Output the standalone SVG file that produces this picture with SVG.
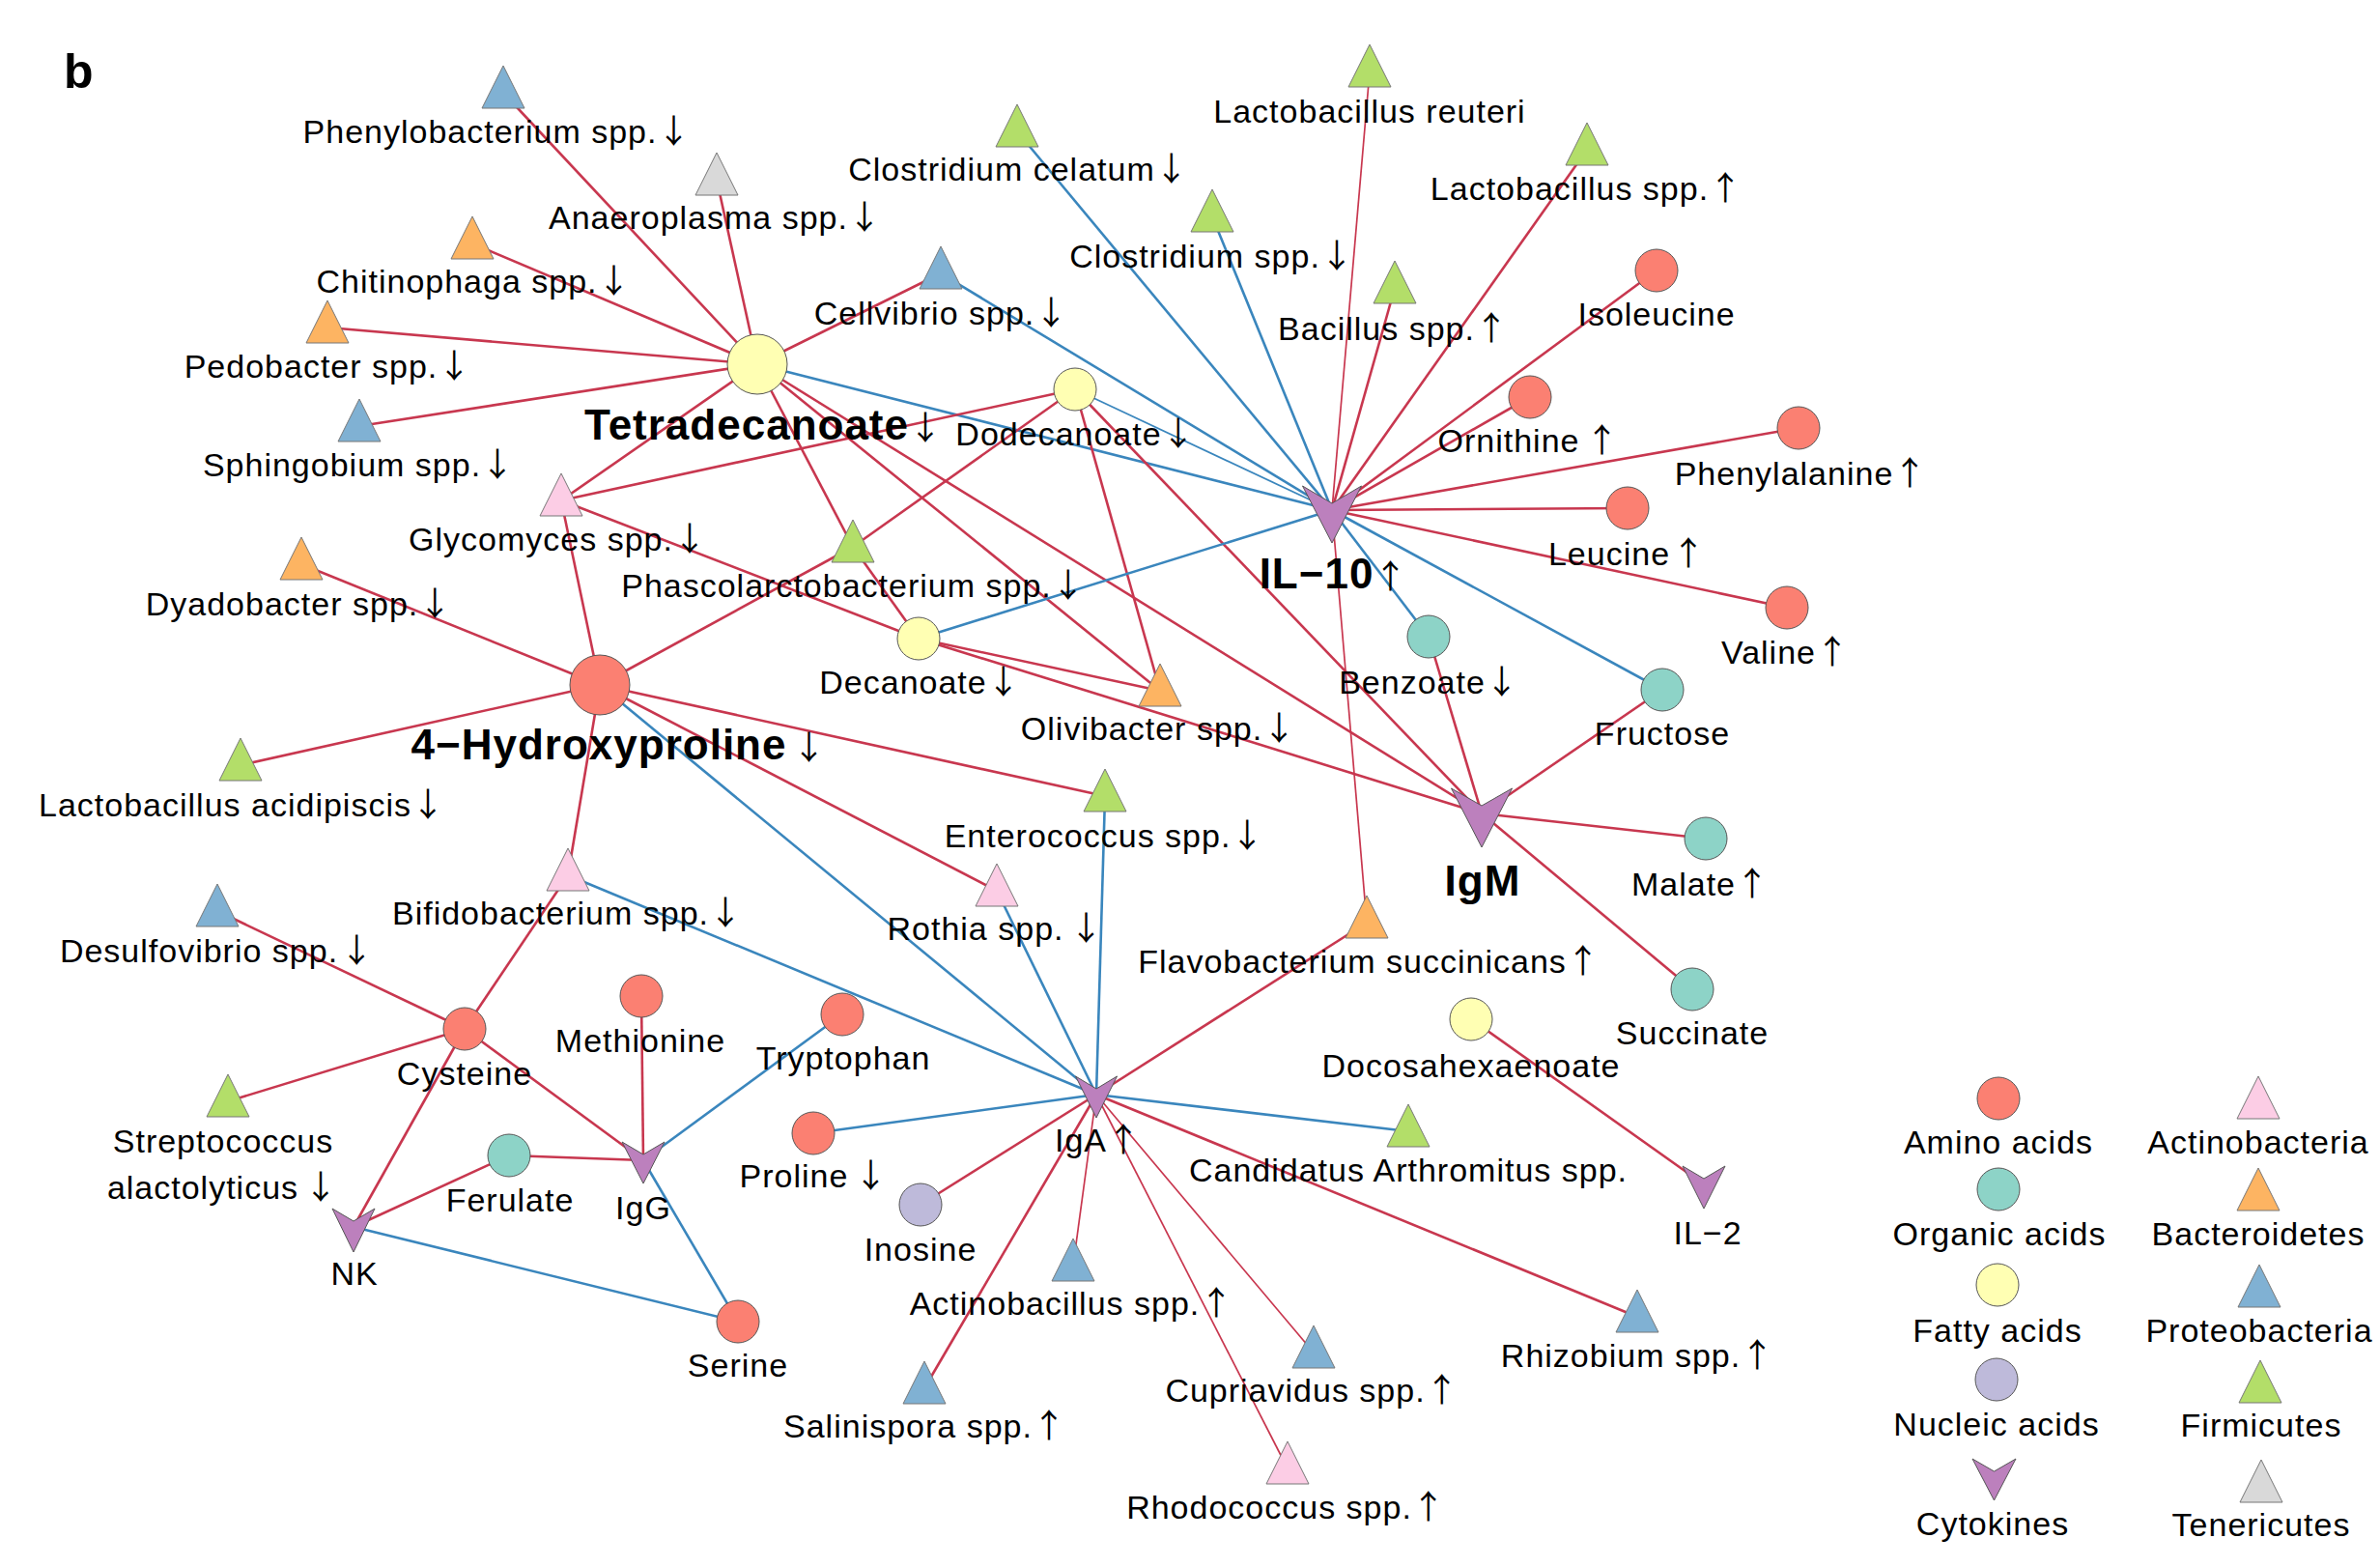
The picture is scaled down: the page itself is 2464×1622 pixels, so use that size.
<svg xmlns="http://www.w3.org/2000/svg" width="2464" height="1622" viewBox="0 0 2464 1622">
<style>
.r{stroke:#c8374f;stroke-width:2.6;fill:none}
.b{stroke:#3a86bd;stroke-width:2.6;fill:none}
.th{stroke-width:1.7}
text{font-family:"Liberation Sans",Arial,sans-serif;font-size:34px;letter-spacing:1px;text-anchor:middle;fill:#000}
.bd{font-weight:bold;font-size:44px}
.ar{font-family:"Noto Sans CJK SC",sans-serif;font-weight:normal;font-size:34px;letter-spacing:-8px}
.am{fill:#FB8072;stroke:#555;stroke-width:1}
.oa{fill:#8DD3C7;stroke:#555;stroke-width:1}
.fa{fill:#FFFFB3;stroke:#555;stroke-width:1}
.na{fill:#BEBADA;stroke:#555;stroke-width:1}
.cy{fill:#BC80BD;stroke:#555;stroke-width:1}
.ac{fill:#FCCDE5;stroke:#777;stroke-width:1}
.bc{fill:#FDB462;stroke:#777;stroke-width:1}
.pr{fill:#80B1D3;stroke:#777;stroke-width:1}
.fi{fill:#B3DE69;stroke:#777;stroke-width:1}
.te{fill:#D9D9D9;stroke:#777;stroke-width:1}
</style>
<rect width="2464" height="1622" fill="#fff"/>
<text x="66" y="91" style="font-weight:bold;font-size:50px;text-anchor:start">b</text>
<g id="edges">
<line class="r" x1="784" y1="377" x2="521" y2="96"/>
<line class="r" x1="784" y1="377" x2="742" y2="186"/>
<line class="r" x1="784" y1="377" x2="489" y2="252"/>
<line class="r" x1="784" y1="377" x2="339" y2="339"/>
<line class="r" x1="784" y1="377" x2="372" y2="441"/>
<line class="r" x1="784" y1="377" x2="581" y2="518"/>
<line class="r" x1="784" y1="377" x2="974" y2="283"/>
<line class="b" x1="784" y1="377" x2="1379" y2="528"/>
<line class="r" x1="784" y1="377" x2="883" y2="566"/>
<line class="r" x1="784" y1="377" x2="1201" y2="715"/>
<line class="r" x1="784" y1="377" x2="1534" y2="842"/>
<line class="r" x1="581" y1="518" x2="1113" y2="403"/>
<line class="r" x1="581" y1="518" x2="621" y2="709"/>
<line class="r" x1="581" y1="518" x2="951" y2="661"/>
<line class="r" x1="1113" y1="403" x2="883" y2="566"/>
<line class="b th" x1="1113" y1="403" x2="1379" y2="528"/>
<line class="r" x1="1113" y1="403" x2="1201" y2="715"/>
<line class="r" x1="1113" y1="403" x2="1534" y2="842"/>
<line class="r" x1="883" y1="566" x2="951" y2="661"/>
<line class="r" x1="883" y1="566" x2="621" y2="709"/>
<line class="b" x1="951" y1="661" x2="1379" y2="528"/>
<line class="r" x1="951" y1="661" x2="1201" y2="715"/>
<line class="r" x1="951" y1="661" x2="1534" y2="842"/>
<line class="r" x1="621" y1="709" x2="312" y2="584"/>
<line class="r" x1="621" y1="709" x2="249" y2="792"/>
<line class="r" x1="621" y1="709" x2="588" y2="906"/>
<line class="b" x1="621" y1="709" x2="1135" y2="1133"/>
<line class="r" x1="621" y1="709" x2="1144" y2="824"/>
<line class="r" x1="621" y1="709" x2="1032" y2="922"/>
<line class="r" x1="588" y1="906" x2="481" y2="1065"/>
<line class="b" x1="588" y1="906" x2="1135" y2="1133"/>
<line class="r" x1="481" y1="1065" x2="225" y2="943"/>
<line class="r" x1="481" y1="1065" x2="236" y2="1140"/>
<line class="r" x1="481" y1="1065" x2="366" y2="1270"/>
<line class="r" x1="481" y1="1065" x2="666" y2="1201"/>
<line class="r" x1="666" y1="1201" x2="664" y2="1031"/>
<line class="r" x1="666" y1="1201" x2="527" y2="1196"/>
<line class="b" x1="666" y1="1201" x2="872" y2="1050"/>
<line class="b" x1="666" y1="1201" x2="764" y2="1368"/>
<line class="r" x1="366" y1="1270" x2="527" y2="1196"/>
<line class="b" x1="366" y1="1270" x2="764" y2="1368"/>
<line class="b" x1="1135" y1="1133" x2="1032" y2="922"/>
<line class="b" x1="1135" y1="1133" x2="1144" y2="824"/>
<line class="b" x1="1135" y1="1133" x2="842" y2="1173"/>
<line class="b" x1="1135" y1="1133" x2="1458" y2="1171"/>
<line class="r" x1="1135" y1="1133" x2="1415" y2="955"/>
<line class="r" x1="1135" y1="1133" x2="953" y2="1247"/>
<line class="r" x1="1135" y1="1133" x2="957" y2="1437"/>
<line class="r th" x1="1135" y1="1133" x2="1111" y2="1310"/>
<line class="r th" x1="1135" y1="1133" x2="1333" y2="1520"/>
<line class="r th" x1="1135" y1="1133" x2="1360" y2="1400"/>
<line class="r" x1="1135" y1="1133" x2="1695" y2="1363"/>
<line class="b" x1="1379" y1="528" x2="1053" y2="136"/>
<line class="b" x1="1379" y1="528" x2="1255" y2="224"/>
<line class="b" x1="1379" y1="528" x2="974" y2="283"/>
<line class="b" x1="1379" y1="528" x2="1479" y2="659"/>
<line class="b" x1="1379" y1="528" x2="1721" y2="714"/>
<line class="r th" x1="1379" y1="528" x2="1418" y2="74"/>
<line class="r" x1="1379" y1="528" x2="1444" y2="298"/>
<line class="r" x1="1379" y1="528" x2="1643" y2="155"/>
<line class="r" x1="1379" y1="528" x2="1715" y2="280"/>
<line class="r" x1="1379" y1="528" x2="1584" y2="411"/>
<line class="r" x1="1379" y1="528" x2="1862" y2="443"/>
<line class="r" x1="1379" y1="528" x2="1685" y2="526"/>
<line class="r" x1="1379" y1="528" x2="1850" y2="629"/>
<line class="r th" x1="1379" y1="528" x2="1415" y2="955"/>
<line class="r" x1="1534" y1="842" x2="1479" y2="659"/>
<line class="r" x1="1534" y1="842" x2="1721" y2="714"/>
<line class="r" x1="1534" y1="842" x2="1766" y2="868"/>
<line class="r" x1="1534" y1="842" x2="1752" y2="1024"/>
<line class="r" x1="1523" y1="1055" x2="1764" y2="1226"/>
</g>
<g id="n-phenylobacterium"><polygon class="pr" points="521,68 499,112 543,112"/><text x="510" y="148">Phenylobacterium spp.<tspan class="ar">↓</tspan></text></g>
<g id="n-anaeroplasma"><polygon class="te" points="742,158 720,202 764,202"/><text x="736" y="237">Anaeroplasma spp.<tspan class="ar">↓</tspan></text></g>
<g id="n-chitinophaga"><polygon class="bc" points="489,224 467,268 511,268"/><text x="486" y="303">Chitinophaga spp.<tspan class="ar">↓</tspan></text></g>
<g id="n-pedobacter"><polygon class="bc" points="339,311 317,355 361,355"/><text x="335" y="391">Pedobacter spp.<tspan class="ar">↓</tspan></text></g>
<g id="n-sphingobium"><polygon class="pr" points="372,413 350,457 394,457"/><text x="367" y="493">Sphingobium spp.<tspan class="ar">↓</tspan></text></g>
<g id="n-glycomyces"><polygon class="ac" points="581,490 559,534 603,534"/><text x="573" y="570">Glycomyces spp.<tspan class="ar">↓</tspan></text></g>
<g id="n-cellvibrio"><polygon class="pr" points="974,255 952,299 996,299"/><text x="970" y="336">Cellvibrio spp.<tspan class="ar">↓</tspan></text></g>
<g id="n-clostridium-celatum"><polygon class="fi" points="1053,108 1031,152 1075,152"/><text x="1050" y="187">Clostridium celatum<tspan class="ar">↓</tspan></text></g>
<g id="n-lactobacillus-reuteri"><polygon class="fi" points="1418,46 1396,90 1440,90"/><text x="1418" y="127">Lactobacillus reuteri</text></g>
<g id="n-clostridium-spp"><polygon class="fi" points="1255,196 1233,240 1277,240"/><text x="1250" y="277">Clostridium spp.<tspan class="ar">↓</tspan></text></g>
<g id="n-bacillus"><polygon class="fi" points="1444,270 1422,314 1466,314"/><text x="1438" y="352">Bacillus spp.<tspan class="ar">↑</tspan></text></g>
<g id="n-lactobacillus-spp"><polygon class="fi" points="1643,127 1621,171 1665,171"/><text x="1638" y="207">Lactobacillus spp.<tspan class="ar">↑</tspan></text></g>
<g id="n-dyadobacter"><polygon class="bc" points="312,556 290,600 334,600"/><text x="305" y="637">Dyadobacter spp.<tspan class="ar">↓</tspan></text></g>
<g id="n-phascolarctobacterium"><polygon class="fi" points="883,538 861,582 905,582"/><text x="879" y="618">Phascolarctobacterium spp.<tspan class="ar">↓</tspan></text></g>
<g id="n-lactobacillus-acidipiscis"><polygon class="fi" points="249,764 227,808 271,808"/><text x="246" y="845">Lactobacillus acidipiscis<tspan class="ar">↓</tspan></text></g>
<g id="n-olivibacter"><polygon class="bc" points="1201,687 1179,731 1223,731"/><text x="1195" y="766">Olivibacter spp.<tspan class="ar">↓</tspan></text></g>
<g id="n-enterococcus"><polygon class="fi" points="1144,796 1122,840 1166,840"/><text x="1139" y="877">Enterococcus spp.<tspan class="ar">↓</tspan></text></g>
<g id="n-bifidobacterium"><polygon class="ac" points="588,878 566,922 610,922"/><text x="583" y="957">Bifidobacterium spp.<tspan class="ar">↓</tspan></text></g>
<g id="n-desulfovibrio"><polygon class="pr" points="225,915 203,959 247,959"/><text x="220" y="996">Desulfovibrio spp.<tspan class="ar" dx="2">↓</tspan></text></g>
<g id="n-rothia"><polygon class="ac" points="1032,894 1010,938 1054,938"/><text x="1026" y="973">Rothia spp.<tspan class="ar" dx="6">↓</tspan></text></g>
<g id="n-flavobacterium"><polygon class="bc" points="1415,927 1393,971 1437,971"/><text x="1413" y="1007">Flavobacterium succinicans<tspan class="ar">↑</tspan></text></g>
<g id="n-streptococcus"><polygon class="fi" points="236,1112 214,1156 258,1156"/><text x="231" y="1193">Streptococcus</text><text x="226" y="1241">alactolyticus<tspan class="ar" dx="6">↓</tspan></text></g>
<g id="n-candidatus"><polygon class="fi" points="1458,1143 1436,1187 1480,1187"/><text x="1458" y="1223">Candidatus Arthromitus spp.</text></g>
<g id="n-actinobacillus"><polygon class="pr" points="1111,1282 1089,1326 1133,1326"/><text x="1105" y="1361">Actinobacillus spp.<tspan class="ar">↑</tspan></text></g>
<g id="n-cupriavidus"><polygon class="pr" points="1360,1372 1338,1416 1382,1416"/><text x="1354" y="1451">Cupriavidus spp.<tspan class="ar">↑</tspan></text></g>
<g id="n-salinispora"><polygon class="pr" points="957,1409 935,1453 979,1453"/><text x="953" y="1488">Salinispora spp.<tspan class="ar">↑</tspan></text></g>
<g id="n-rhodococcus"><polygon class="ac" points="1333,1492 1311,1536 1355,1536"/><text x="1327" y="1572">Rhodococcus spp.<tspan class="ar">↑</tspan></text></g>
<g id="n-rhizobium"><polygon class="pr" points="1695,1335 1673,1379 1717,1379"/><text x="1691" y="1415">Rhizobium spp.<tspan class="ar">↑</tspan></text></g>
<g id="n-tetradecanoate"><circle class="fa" cx="784" cy="377" r="31"/><text class="bd" x="786" y="455">Tetradecanoate<tspan class="ar">↓</tspan></text></g>
<g id="n-hydroxyproline"><circle class="am" cx="621" cy="709" r="31"/><text class="bd" x="636" y="786">4−Hydroxyproline<tspan class="ar" dx="6">↓</tspan></text></g>
<g id="n-dodecanoate"><circle class="fa" cx="1113" cy="403" r="22"/><text x="1109" y="461">Dodecanoate<tspan class="ar">↓</tspan></text></g>
<g id="n-decanoate"><circle class="fa" cx="951" cy="661" r="22"/><text x="948" y="718">Decanoate<tspan class="ar">↓</tspan></text></g>
<g id="n-docosahexaenoate"><circle class="fa" cx="1523" cy="1055" r="22"/><text x="1523" y="1115">Docosahexaenoate</text></g>
<g id="n-isoleucine"><circle class="am" cx="1715" cy="280" r="22"/><text x="1715" y="337">Isoleucine</text></g>
<g id="n-ornithine"><circle class="am" cx="1584" cy="411" r="22"/><text x="1578" y="468">Ornithine<tspan class="ar" dx="6">↑</tspan></text></g>
<g id="n-phenylalanine"><circle class="am" cx="1862" cy="443" r="22"/><text x="1860" y="502">Phenylalanine<tspan class="ar">↑</tspan></text></g>
<g id="n-leucine"><circle class="am" cx="1685" cy="526" r="22"/><text x="1680" y="585">Leucine<tspan class="ar" dx="2">↑</tspan></text></g>
<g id="n-valine"><circle class="am" cx="1850" cy="629" r="22"/><text x="1844" y="687">Valine<tspan class="ar">↑</tspan></text></g>
<g id="n-benzoate"><circle class="oa" cx="1479" cy="659" r="22"/><text x="1475" y="718">Benzoate<tspan class="ar">↓</tspan></text></g>
<g id="n-fructose"><circle class="oa" cx="1721" cy="714" r="22"/><text x="1721" y="771">Fructose</text></g>
<g id="n-malate"><circle class="oa" cx="1766" cy="868" r="22"/><text x="1756" y="927">Malate<tspan class="ar">↑</tspan></text></g>
<g id="n-succinate"><circle class="oa" cx="1752" cy="1024" r="22"/><text x="1752" y="1081">Succinate</text></g>
<g id="n-cysteine"><circle class="am" cx="481" cy="1065" r="22"/><text x="481" y="1123">Cysteine</text></g>
<g id="n-methionine"><circle class="am" cx="664" cy="1031" r="22"/><text x="663" y="1089">Methionine</text></g>
<g id="n-tryptophan"><circle class="am" cx="872" cy="1050" r="22"/><text x="873" y="1107">Tryptophan</text></g>
<g id="n-proline"><circle class="am" cx="842" cy="1173" r="22"/><text x="838" y="1229">Proline<tspan class="ar" dx="6">↓</tspan></text></g>
<g id="n-serine"><circle class="am" cx="764" cy="1368" r="22"/><text x="764" y="1425">Serine</text></g>
<g id="n-ferulate"><circle class="oa" cx="527" cy="1196" r="22"/><text x="528" y="1254">Ferulate</text></g>
<g id="n-inosine"><circle class="na" cx="953" cy="1247" r="22"/><text x="953" y="1305">Inosine</text></g>
<g id="n-il10"><polygon class="cy" points="1348.5,503 1379,521 1409.5,503 1379,562"/><text class="bd" x="1376" y="609">IL−10<tspan class="ar">↑</tspan></text></g>
<g id="n-igm"><polygon class="cy" points="1502.5,816 1534,834 1565.5,816 1534,877"/><text class="bd" x="1535" y="927">IgM</text></g>
<g id="n-iga"><polygon class="cy" points="1113.5,1114 1135,1127 1156.5,1114 1135,1157"/><text x="1132" y="1192">IgA<tspan class="ar">↑</tspan></text></g>
<g id="n-igg"><polygon class="cy" points="644,1182 666,1195 688,1182 666,1225"/><text x="666" y="1262">IgG</text></g>
<g id="n-nk"><polygon class="cy" points="344,1251 366,1264 388,1251 366,1296"/><text x="367" y="1330">NK</text></g>
<g id="n-il2"><polygon class="cy" points="1742,1207 1764,1220 1786,1207 1764,1251"/><text x="1768" y="1288">IL−2</text></g>
<g id="legend">
<circle class="am" cx="2069" cy="1137" r="22"/><text x="2069" y="1194">Amino acids</text>
<circle class="oa" cx="2069" cy="1231" r="22"/><text x="2070" y="1289">Organic acids</text>
<circle class="fa" cx="2068" cy="1330" r="22"/><text x="2068" y="1389">Fatty acids</text>
<circle class="na" cx="2067" cy="1428" r="22"/><text x="2067" y="1486">Nucleic acids</text>
<polygon class="cy" points="2042,1510 2064.5,1523 2087,1510 2064.5,1553"/><text x="2063" y="1589">Cytokines</text>
<polygon class="ac" points="2338,1114 2316,1158 2360,1158"/><text x="2338" y="1194">Actinobacteria</text>
<polygon class="bc" points="2338,1209 2316,1253 2360,1253"/><text x="2338" y="1289">Bacteroidetes</text>
<polygon class="pr" points="2339,1309 2317,1353 2361,1353"/><text x="2339" y="1389">Proteobacteria</text>
<polygon class="fi" points="2340,1408 2318,1452 2362,1452"/><text x="2341" y="1487">Firmicutes</text>
<polygon class="te" points="2341,1511 2319,1555 2363,1555"/><text x="2341" y="1590">Tenericutes</text>
</g>
</svg>
